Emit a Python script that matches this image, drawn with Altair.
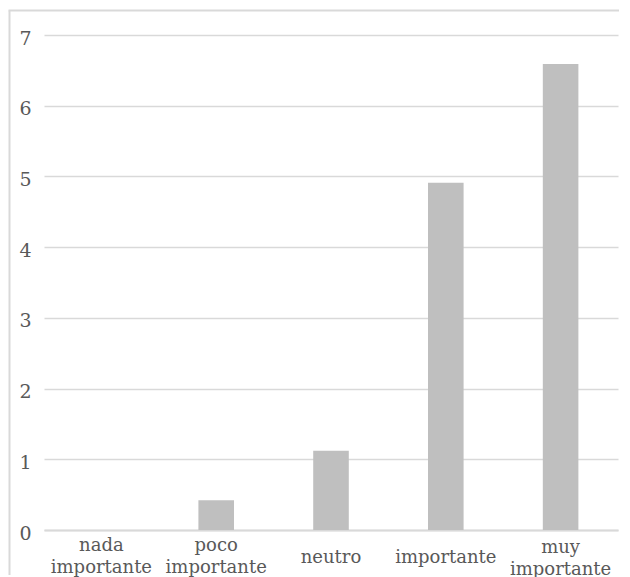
import altair as alt
import pandas as pd

categories = ["nada importante", "poco importante", "neutro", "importante", "muy importante"]
values = [0.0, 0.42, 1.12, 4.91, 6.59]
y_ticks = [0, 1, 2, 3, 4, 5, 6, 7]

df = pd.DataFrame({"cat": categories, "val": values})

FONT = "DejaVu Serif"
TEXT = "#595959"
GRID = "#d9d9d9"

bars = alt.Chart(df).mark_bar(color="#bfbfbf").encode(
    x=alt.X(
        "cat:N",
        sort=categories,
        title=None,
        scale=alt.Scale(paddingInner=0.69, paddingOuter=0.345),
        axis=alt.Axis(
            labelAngle=0,
            labelExpr="split(datum.label, ' ')",
            labelFont=FONT,
            labelFontSize=18,
            labelColor=TEXT,
            labelLineHeight=22,
            labelBaseline="middle",
            labelPadding={
                "condition": [
                    {"test": "indexof(datum.value, ' ') < 0", "value": 27},
                    {"test": "datum.value == 'muy importante'", "value": 17},
                ],
                "value": 15,
            },
            labelOverlap=False,
            labelBound=False,
            ticks=False,
            domainColor=GRID,
            domainWidth=1.8,
            grid=False,
        ),
    ),
    y=alt.Y(
        "val:Q",
        title=None,
        scale=alt.Scale(domain=[0, 7], nice=False, zero=True),
        axis=alt.Axis(
            values=y_ticks,
            labelFont=FONT,
            labelFontSize=19,
            labelColor=TEXT,
            labelPadding=13,
            labelOffset=3,
            ticks=False,
            domain=False,
            gridColor=GRID,
            gridWidth=1.6,
        ),
    ),
)

frame_left = alt.Chart(alt.Data(values=[{}])).mark_rule(color=GRID, strokeWidth=2).encode(
    x=alt.value(-34.5),
    y=alt.value(-24.5),
    y2=alt.value(540),
)
frame_top = alt.Chart(alt.Data(values=[{}])).mark_rule(color=GRID, strokeWidth=2).encode(
    x=alt.value(-35.5),
    x2=alt.value(575),
    y=alt.value(-24.5),
)

chart = alt.layer(frame_left, frame_top, bars).properties(
    width=574,
    height=495,
    autosize=alt.AutoSizeParams(type="none"),
    padding={"left": 44, "top": 35, "right": 12, "bottom": 47},
).configure_view(stroke=None)

chart.save("out.html", embed_options={"renderer": "svg", "actions": False})
